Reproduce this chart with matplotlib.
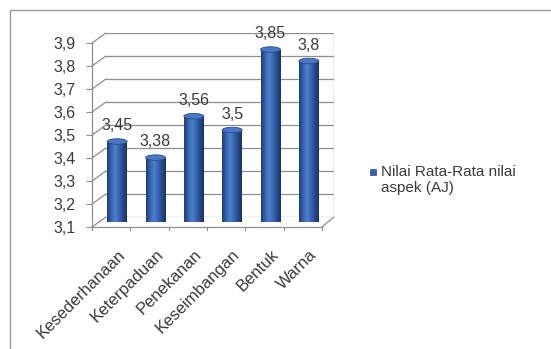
import numpy as np
import matplotlib
matplotlib.use("Agg")
import matplotlib.pyplot as plt
from matplotlib.patches import Rectangle, Ellipse, ConnectionPatch
from matplotlib.colors import LinearSegmentedColormap
from matplotlib.ticker import FuncFormatter

# ---- data ----
categories = ["Kesederhanaan", "Keterpaduan", "Penekanan", "Keseimbangan", "Bentuk", "Warna"]
values = [3.45, 3.38, 3.56, 3.5, 3.85, 3.8]
y_ticks = [3.1, 3.2, 3.3, 3.4, 3.5, 3.6, 3.7, 3.8, 3.9]
series_label = "Nilai Rata-Rata nilai\naspek (AJ)"

W, H = 551, 349
plt.rcParams['font.family'] = ['Liberation Sans', 'DejaVu Sans']
fig = plt.figure(figsize=(W / 100, H / 100), dpi=100)
fig.patch.set_facecolor("white")

def rect(l, t, r, b):
    return [l / W, 1 - b / H, (r - l) / W, (b - t) / H]

def px(x, y):
    return (x / W, 1 - y / H)

txt = "#3a3a3a"
grid_c = "#8e8e8e"
ymin, ymax = y_ticks[0], y_ticks[-1]

# outer chart border
fig.add_artist(Rectangle(px(10, 360), (560 - 10) / W, (360 - 10) / H,
                         transform=fig.transFigure, fill=False,
                         edgecolor="#9a9a9a", lw=1.0))

# back wall axes (gridlines)
ax_back = fig.add_axes(rect(106, 33, 334, 217))
ax_back.set_ylim(ymin, ymax)
ax_back.set_xlim(0, 1)
ax_back.set_yticks(y_ticks)
ax_back.set_xticks([])
ax_back.tick_params(left=False, labelleft=False)
for s in ax_back.spines.values():
    s.set_visible(False)
for v in y_ticks:
    ax_back.axhline(v, color=grid_c, lw=0.9)
ax_back.axvline(1, color=grid_c, lw=0.9)
ax_back.patch.set_alpha(0)

# front axes (y axis labels)
ax_front = fig.add_axes(rect(92, 43, 322, 227))
ax_front.set_ylim(ymin, ymax)
ax_front.set_xlim(0, 1)
ax_front.set_yticks(y_ticks)
ax_front.yaxis.set_major_formatter(FuncFormatter(lambda v, p: f"{v:.1f}".replace(".", ",")))
ax_front.set_xticks([])
ax_front.tick_params(axis="y", length=4, color=grid_c, labelsize=11.5, labelcolor=txt, pad=8)
for k, s in ax_front.spines.items():
    s.set_visible(k in ("left", "bottom"))
    s.set_color(grid_c)
    s.set_linewidth(0.9)
ax_front.patch.set_alpha(0)

# side wall diagonals
for v in y_ticks:
    con = ConnectionPatch(xyA=(0, v), coordsA=ax_front.get_yaxis_transform(),
                          xyB=(0, v), coordsB=ax_back.get_yaxis_transform(),
                          color=grid_c, lw=0.9)
    fig.add_artist(con)
# floor right diagonal
con = ConnectionPatch(xyA=(1, ymin), coordsA=ax_front.get_yaxis_transform(),
                      xyB=(1, ymin), coordsB=ax_back.get_yaxis_transform(),
                      color=grid_c, lw=0.9)
fig.add_artist(con)

# mid-depth axes with cylinders
ax = fig.add_axes(rect(98, 38, 328, 222))
ax.set_ylim(ymin, ymax)
ax.set_xlim(-0.5, len(categories) - 0.5)
ax.patch.set_alpha(0)
for s in ax.spines.values():
    s.set_visible(False)
ax.set_yticks([])
x = np.arange(len(categories))
ax.set_xticks(x)
ax.set_xticklabels(categories, rotation=45, ha="right", va="top",
                   rotation_mode="anchor", fontsize=12, color=txt)
ax.tick_params(axis="x", length=0, pad=18)

# floor front tick marks between categories
for b in np.arange(len(categories) + 1):
    ax_front.plot([b / len(categories)] * 2, [ymin, ymin - 0.015], color=grid_c,
                  lw=0.8, clip_on=False)

bw = 0.52
cmap = LinearSegmentedColormap.from_list(
    "cyl", ["#1e3d72", "#3462ad", "#4f80cc", "#3a68b4", "#274a8a", "#1a3363"])
grad = np.linspace(0, 1, 64).reshape(1, -1)
ell_h = 0.024
bars = ax.bar(x, [v - ymin for v in values], bottom=ymin, width=bw,
              color="#3462ad", edgecolor="none", zorder=2)
for xi, v, bar in zip(x, values, bars):
    im = ax.imshow(grad, cmap=cmap, aspect="auto",
                   extent=[xi - bw / 2, xi + bw / 2, ymin, v], zorder=3)
    im.set_clip_path(bar)
    ax.add_patch(Ellipse((xi, ymin), bw, ell_h, facecolor="#2a4f93",
                         edgecolor="none", zorder=2.5))
    ax.add_patch(Ellipse((xi, v), bw, ell_h, facecolor="#4a78c4",
                         edgecolor="#2a4d8c", lw=0.6, zorder=4))
    ax.annotate(f"{v}".replace(".", ","), (xi, v), xytext=(0, 6),
                textcoords="offset points", ha="center", va="bottom",
                fontsize=11.5, color=txt, zorder=5)

# legend
fig.add_artist(Rectangle(px(370, 175), 6 / W, 6 / H, transform=fig.transFigure,
                         facecolor="#3462ad", edgecolor="#2a4d8c", lw=0.5))
fig.text(*px(381, 165), series_label, fontsize=11, color=txt,
         ha="left", va="top", linespacing=1.2)

fig.savefig("out.png", dpi=100)
